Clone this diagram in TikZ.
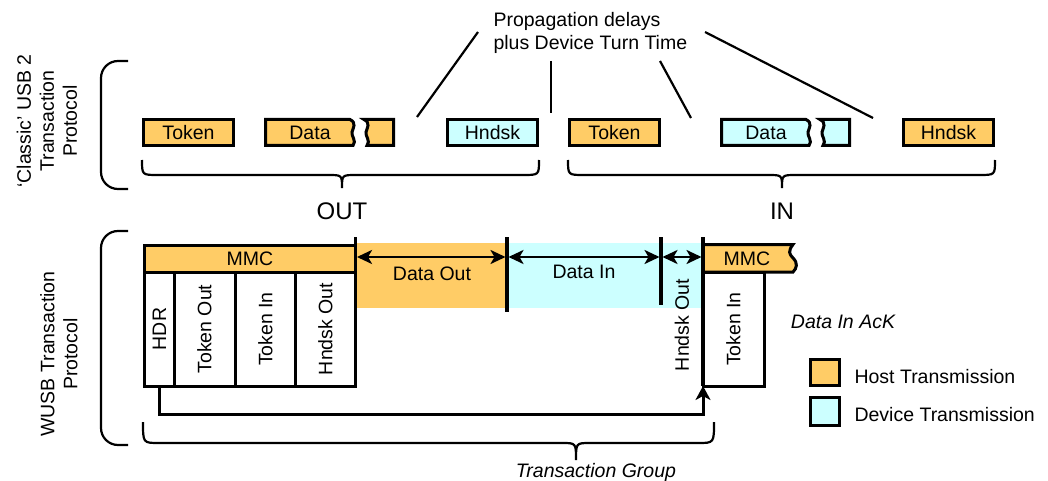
\documentclass[tikz,border=0pt]{standalone}
\usepackage{fontspec}
\setmainfont{Liberation Sans}
\usetikzlibrary{arrows.meta}
\definecolor{hostc}{RGB}{255,204,102}
\definecolor{devc}{RGB}{204,255,255}

% packet split by a torn edge: fill, left x, tear x (first part), tear x (second part), right x
\newcommand\tornpacket[5]{%
  \draw[pktline, fill=#1] (#2,119.5) -- (#3,119.5)
    .. controls ({#3+7},123) and ({#3+3},128) .. ({#3+2},132)
    .. controls ({#3+1},136) and ({#3+7},141) .. ({#3+3},145.5)
    -- (#2,145.5) -- cycle;
  \draw[pktline, fill=#1] (#4,119.5) -- (#5,119.5) -- (#5,145.5) -- ({#4+3},145.5)
    .. controls ({#4+7},141) and ({#4+1},136) .. ({#4+2},132)
    .. controls ({#4+3},128) and ({#4+7},123) .. (#4,119.5) -- cycle;
}
% curly brace opening upwards: x left, x right, x tip, y ends, y bar, y tip
\newcommand\groupbrace[6]{%
  \draw[braceline] (#1,#4) .. controls (#1,#5) .. ({#1+16},#5) -- ({#3-14},#5)
    .. controls (#3,#5) .. (#3,#6) .. controls (#3,#5) .. ({#3+14},#5)
    -- ({#2-16},#5) .. controls (#2,#5) .. (#2,#4);
}

\begin{document}
\begin{tikzpicture}[x=1pt,y=-1pt,
  txt/.style={font=\fontsize{19.5}{23}\selectfont},
  pktline/.style={draw, line width=3pt, line join=miter},
  pkt/.style={pktline, minimum width=90pt, minimum height=26pt, inner sep=0pt, outer sep=0pt, txt},
  hostpkt/.style={pkt, fill=hostc},
  devpkt/.style={pkt, fill=devc},
  cell/.style={pktline, fill=white, minimum height=114pt, inner sep=0pt, outer sep=0pt, txt},
  braceline/.style={draw, line width=2.2pt},
  pline/.style={draw, line width=2.2pt},
  divider/.style={draw, line width=3.2pt},
  dblarrow/.style={draw, line width=2.6pt, {Stealth[length=15pt,width=14pt,inset=4pt]}-{Stealth[length=15pt,width=14pt,inset=4pt]}, shorten >=1.5pt, shorten <=1.5pt},
  conn/.style={draw, line width=3pt, -{Stealth[length=14pt,width=15pt,inset=4pt]}},
  legsq/.style={pktline, inner sep=0pt, outer sep=0pt, minimum width=29pt}
]
\useasboundingbox (0,0) rectangle (1048,481);

% ---------- classic USB 2 transaction ----------
\node[rotate=90, align=center, txt] (classic) at (47,121) {‘Classic’ USB 2\\Transaction\\Protocol};
\draw[braceline, rounded corners=17pt] (128,61) -- (101,61) -- (101,189) -- (128,189);

\node[hostpkt] (tokA) at (188.5,132.5) {Token};
\tornpacket{hostc}{265.5}{350}{364}{393.5}
\node[txt] (dataA) at (310,132.5) {Data};
\node[devpkt] (hndA) at (492.5,132.5) {Hndsk};

\node[hostpkt] (tokB) at (614.5,132.5) {Token};
\tornpacket{devc}{721.5}{806}{820}{849.5}
\node[txt] (dataB) at (766,132.5) {Data};
\node[hostpkt] (hndB) at (948.5,132.5) {Hndsk};

\groupbrace{142}{539}{342}{160}{175}{188}
\groupbrace{568}{995}{782}{160}{175}{188}
\node[font=\fontsize{24}{28}\selectfont] (out) at (342,211) {OUT};
\node[font=\fontsize{24}{28}\selectfont] (in) at (782,211) {IN};

% turnaround gaps
\node[align=left, anchor=west, txt] (prop) at (490,33) {Propagation delays\\plus Device Turn Time};
\coordinate (p1) at (478,32);  \coordinate (g1) at (417,117);
\coordinate (p2) at (551,61);  \coordinate (g2) at (551,113);
\coordinate (p3) at (660,61);  \coordinate (g3) at (691,118);
\coordinate (p4) at (705,32);  \coordinate (g4) at (873,118);
\draw[pline] (p1) -- (g1);
\draw[pline] (p2) -- (g2);
\draw[pline] (p3) -- (g3);
\draw[pline] (p4) -- (g4);

% ---------- WUSB transaction ----------
\node[rotate=90, align=center, txt] (wusb) at (59,354) {WUSB Transaction\\Protocol};
\draw[braceline, rounded corners=17pt] (128,231) -- (101,231) -- (101,445) -- (128,445);

\fill[hostc] (356,243) rectangle (507,308);
\fill[devc] (507,243) rectangle (703,308);

\node[pktline, fill=hostc, minimum width=211pt, minimum height=27pt, inner sep=0pt, outer sep=0pt, txt] (mmcA) at (250,258.5) {MMC};
\node[cell, minimum width=30pt] (hdr) at (159.5,329) {\rotatebox{90}{HDR}};
\node[cell, minimum width=61pt] (tko) at (204.5,329) {\rotatebox{90}{Token Out}};
\node[cell, minimum width=61pt] (tki) at (265.5,329) {\rotatebox{90}{Token In}};
\node[cell, minimum width=60pt] (hso) at (325.5,329) {\rotatebox{90}{Hndsk Out}};

\draw[pktline, fill=hostc] (703,244.5) -- (793,244.5)
  .. controls (788,251) and (789,254) .. (793,258)
  .. controls (798,263) and (797,268) .. (793,272) -- (703,272) -- cycle;
\node[txt] (mmcB) at (747,258.5) {MMC};
\node[cell, minimum width=61pt] (tkr) at (733.5,329) {\rotatebox{90}{Token In}};

\coordinate (v0) at (355.5,237);
\coordinate (v1) at (507,237);  \coordinate (v1b) at (507,312);
\coordinate (v2) at (661,237);  \coordinate (v2b) at (661,305);
\coordinate (v3) at (703,237);
\draw[divider] (v0) -- (mmcA.north east);
\draw[divider] (v1) -- (v1b);
\draw[divider] (v2) -- (v2b);
\draw[divider] (v3) -- (tkr.south west);

\coordinate (a0) at (355.5,257);
\coordinate (a1) at (507,257);
\coordinate (a2) at (661,257);
\coordinate (a3) at (703,257);
\draw[dblarrow] (a0) -- (a1);
\draw[dblarrow] (a1) -- (a2);
\draw[dblarrow] (a2) -- (a3);
\node[txt] (dout) at (432,274) {Data Out};
\node[txt] (din) at (584,272) {Data In};
\node[txt] (hsr) at (682,325) {\rotatebox{90}{Hndsk Out}};

\node[txt, font=\fontsize{19.5}{23}\selectfont\itshape] (ack) at (843,322) {Data In AcK};

\draw[conn] (hdr.south) -- ++(0,28) -| (tkr.south west);

\groupbrace{143}{714}{576}{422}{443}{460}
\node[txt, font=\fontsize{19.5}{23}\selectfont\itshape] (tg) at (596,472) {Transaction Group};

% ---------- legend ----------
\node[legsq, fill=hostc, minimum height=26pt] (lh) at (825,372.5) {};
\node[legsq, fill=devc, minimum height=28pt] (ld) at (825,411.5) {};
\node[txt, anchor=west] (lht) at (851,377) {Host Transmission};
\node[txt, anchor=west] (ldt) at (851,415) {Device Transmission};
\end{tikzpicture}
\end{document}
